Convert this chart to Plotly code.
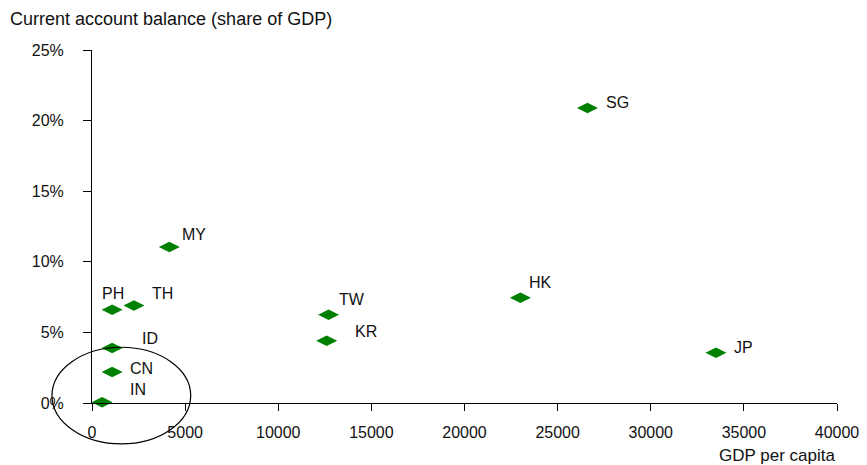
import plotly.graph_objects as go

# ---- data ----
countries = ["SG", "HK", "JP", "MY", "TH", "PH", "ID", "CN", "IN", "TW", "KR"]
gdp_per_capita = [26600, 23000, 33500, 4150, 2250, 1080, 1080, 1080, 540, 12700, 12600]
current_account = [20.9, 7.45, 3.55, 11.05, 6.9, 6.6, 3.9, 2.2, 0.05, 6.25, 4.4]

x_ticks = [0, 5000, 10000, 15000, 20000, 25000, 30000, 35000, 40000]
y_ticks = [0, 5, 10, 15, 20, 25]

# highlighted group (ellipse) extent in data units
ellipse_x = [-2150, 5300]
ellipse_y = [-2.9, 3.95]

# ---- styling ----
FONT = "Liberation Sans, Arial, sans-serif"
GREEN = "#008000"
X_RANGE = [0, 40000]
Y_RANGE = [0, 25]
PAGE_OFFSET = 8  # default page body margin
W, H = 867 - PAGE_OFFSET, 465 - PAGE_OFFSET
# label pixel offsets (style only)
label_offset = {
    "SG": (17, 5), "HK": (7, 15), "JP": (16, 5), "MY": (11, 12), "TH": (16, 12),
    "PH": (-12, 16), "ID": (28, 9), "CN": (16, 3), "IN": (26, 13), "TW": (8, 15),
    "KR": (26, 9),
}

fig = go.Figure()
fig.add_trace(go.Scatter(
    x=gdp_per_capita, y=current_account, mode="markers",
    marker=dict(symbol="diamond-wide", size=15, color=GREEN, line=dict(width=0)),
    cliponaxis=False, hoverinfo="skip", showlegend=False,
))

for c, gx, cy in zip(countries, gdp_per_capita, current_account):
    dx, dy = label_offset[c]
    fig.add_annotation(x=gx, y=cy, xref="x", yref="y", text=c, showarrow=False,
                       xanchor="left", yanchor="middle", xshift=dx, yshift=dy,
                       font=dict(family=FONT, size=16, color="#111111"))

def to_paper(v, rng):
    return (v - rng[0]) / (rng[1] - rng[0])

fig.add_shape(type="circle", xref="paper", yref="paper",
              x0=to_paper(ellipse_x[0], X_RANGE), x1=to_paper(ellipse_x[1], X_RANGE),
              y0=to_paper(ellipse_y[0], Y_RANGE), y1=to_paper(ellipse_y[1], Y_RANGE),
              line=dict(color="black", width=1.2), layer="above")

fig.add_annotation(x=1.0, y=-0.148, xref="paper", yref="paper", text="GDP per capita",
                   showarrow=False, xanchor="right", yanchor="middle",
                   font=dict(family=FONT, size=17, color="#111111"))

fig.update_layout(
    width=W, height=H,
    margin=dict(l=92 - PAGE_OFFSET, r=30, t=50 - PAGE_OFFSET, b=62, autoexpand=False),
    paper_bgcolor="white", plot_bgcolor="white",
    font=dict(family=FONT, size=16, color="#111111"),
    title=dict(text="Current account balance (share of GDP)", x=(10 - PAGE_OFFSET) / W,
               xref="container", xanchor="left", y=1 - (19 - PAGE_OFFSET) / H,
               yref="container", yanchor="middle",
               font=dict(family=FONT, size=18, color="#111111")),
    xaxis=dict(range=X_RANGE, tickvals=x_ticks, ticktext=[str(v) for v in x_ticks],
               automargin=False,
               showgrid=False, zeroline=False, showline=True, linecolor="black", linewidth=1,
               ticks="outside", ticklen=7, tickcolor="black", ticklabelstandoff=8,
               tickfont=dict(family=FONT, size=16, color="#111111")),
    yaxis=dict(range=Y_RANGE, tickvals=y_ticks, ticktext=[f"{v}%" for v in y_ticks],
               automargin=False,
               showgrid=False, zeroline=False, showline=True, linecolor="black", linewidth=1,
               ticks="outside", ticklen=8, tickcolor="black", ticklabelstandoff=16,
               tickfont=dict(family=FONT, size=16, color="#111111")),
)

fig.write_html("out.html")
